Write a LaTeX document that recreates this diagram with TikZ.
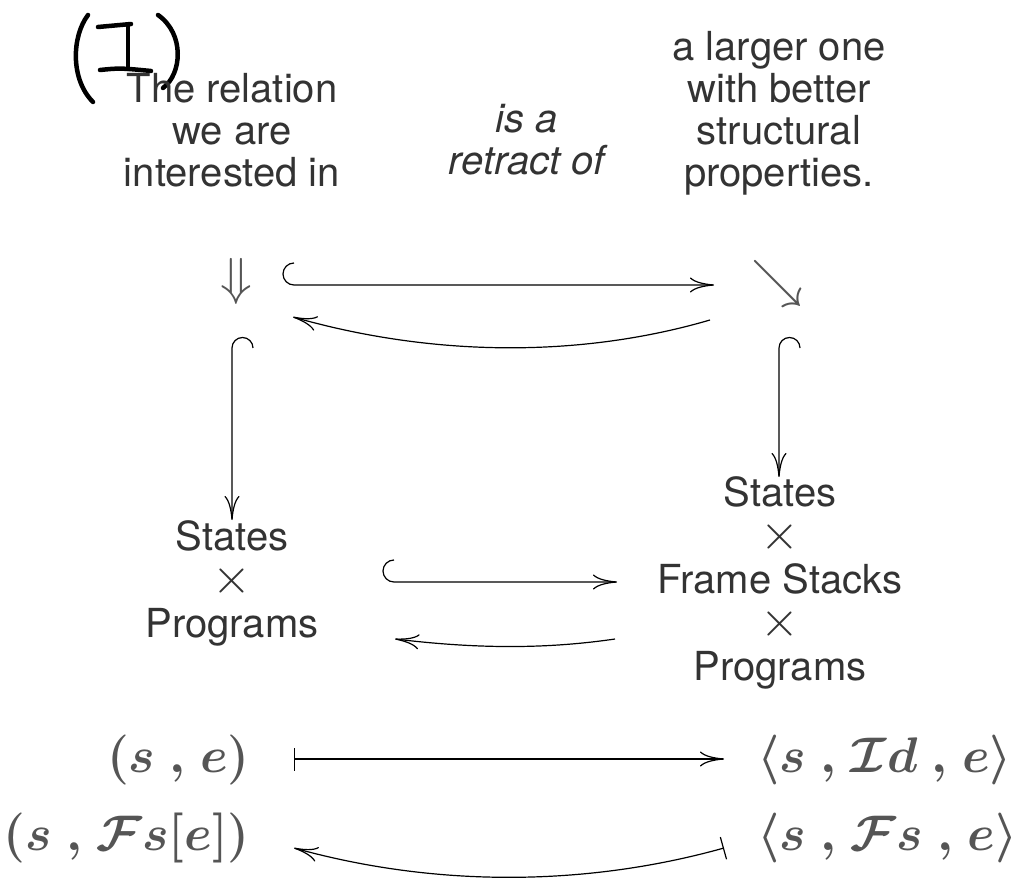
\RequirePackage{fix-cm}
\documentclass[tikz,border=0pt]{standalone}
\usepackage[no-math]{fontspec}
\setmainfont{TeX Gyre Heros}
\usetikzlibrary{arrows.meta}
\definecolor{txt}{HTML}{333333}
\definecolor{sym}{HTML}{555555}
\newcommand\timesmark{{\fontsize{50}{43.5}\selectfont$\times$}}
\newcommand\sep{\mkern4.5mu{,}\mkern4.5mu}
\begin{document}
\begin{tikzpicture}[x=1pt,y=1pt,
  lbl/.style={inner sep=0pt, text=txt, font=\fontsize{40}{42}\selectfont},
  col/.style={inner sep=0pt, text=txt, font=\fontsize{40}{43.5}\selectfont},
  bigsym/.style={inner sep=0pt, text=sym, font=\fontsize{52}{52}\selectfont},
  mth/.style={inner sep=0pt, text=sym, font=\fontsize{50}{50}\selectfont\boldmath},
  arr/.style={line width=1.2pt, -{Computer Modern Rightarrow[length=24pt,width=15pt]}},
  barr/.style={line width=1.2pt, {Bar[width=23pt]}-{Computer Modern Rightarrow[length=24pt,width=15pt]}},
  hand/.style={line width=4.5pt, line cap=round, line join=round, draw=black}]
\fill[white] (0,0) rectangle (1016,879);
\useasboundingbox (0,0) rectangle (1016,879);
% handwritten (I)
\draw[hand] (88,864) .. controls (72,843) and (70,800) .. (93,777);
\draw[hand] (158,864) .. controls (185,845) and (182,805) .. (163,791);
\draw[hand] (98,852) -- (131,855);
\draw[hand] (128,854) -- (128,810);
\draw[hand] (100,809) .. controls (120,811) .. (151,808);
% top texts
\node[lbl, anchor=base] (rel) at (232,776) {\begin{tabular}[t]{@{}c@{}}The relation\\we are\\interested in\end{tabular}};
\node[lbl, anchor=base] (retr) at (527,746) {\itshape\begin{tabular}[t]{@{}c@{}}is a\\retract of\end{tabular}};
\node[lbl, anchor=base] (larg) at (779,818) {\begin{tabular}[t]{@{}c@{}}a larger one\\with better\\structural\\properties.\end{tabular}};
% symbols
\node[bigsym] (dn) at (236.5,597) {$\Downarrow$};
\node[bigsym] (se) at (777,595) {$\searrow$};
% columns
\node[col, anchor=base] (sp) at (232,329) {\begin{tabular}[t]{@{}c@{}}States\\\timesmark\\Programs\end{tabular}};
\node[col, anchor=base] (sfp) at (780,373) {\begin{tabular}[t]{@{}c@{}}States\\\timesmark\\Frame Stacks\\\timesmark\\Programs\end{tabular}};
% math
\node[mth, anchor=base east] (m1) at (250,107) {$(s\sep e)$};
\node[mth, anchor=base east] (m2) at (250,29) {$(s\sep\mathcal{F}s[e])$};
\node[mth, anchor=base west] (m3) at (757,107) {$\langle s\sep\mathcal{I}d\sep e\rangle$};
\node[mth, anchor=base west] (m4) at (757,29) {$\langle s\sep\mathcal{F}s\sep e\rangle$};
% connector end points
\coordinate (t1s) at (294,616); \coordinate (t1e) at (714,594);
\coordinate (t2s) at (710,559); \coordinate (t2e) at (293,562);
\coordinate (v1s) at (253,531); \coordinate (v1e) at (232,359);
\coordinate (v2s) at (800,531); \coordinate (v2e) at (779,402);
\coordinate (h1s) at (394,319); \coordinate (h1e) at (617,297);
\coordinate (h2s) at (615,240); \coordinate (h2e) at (395,240);
\coordinate (b1s) at (294,120); \coordinate (b1e) at (724,120);
\coordinate (b2s) at (724,31);  \coordinate (b2e) at (294,31);
% connectors
\draw[arr] (t1s) arc[start angle=90,end angle=270,radius=11pt] -- (t1e);
\draw[arr] (t2s) .. controls +(-130,-38) and +(140,-40) .. (t2e);
\draw[arr] (v1s) arc[start angle=0,end angle=180,radius=10.5pt] -- (v1e);
\draw[arr] (v2s) arc[start angle=0,end angle=180,radius=10.5pt] -- (v2e);
\draw[arr] (h1s) arc[start angle=90,end angle=270,radius=11pt] -- (h1e);
\draw[arr] (h2s) .. controls +(-75,-11) and +(75,-9) .. (h2e);
\draw[barr] (b1s) -- (b1e);
\draw[barr] (b2s) .. controls +(-140,-39) and +(140,-39) .. (b2e);
\end{tikzpicture}
\end{document}
